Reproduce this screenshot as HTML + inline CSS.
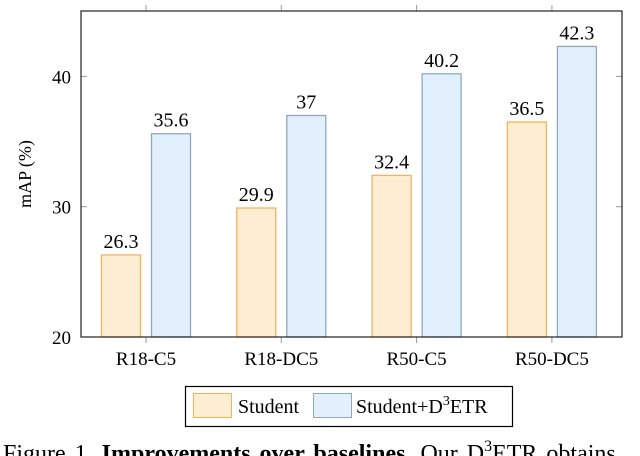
<!DOCTYPE html>
<html><head><meta charset="utf-8"><style>
body{margin:0;background:#fff;}
svg{display:block;font-family:"Liberation Serif",serif;}
</style></head><body>
<svg width="640" height="456" viewBox="0 0 640 456" xmlns="http://www.w3.org/2000/svg">
<g id="grid"></g>
<g id="bars"></g>
<g id="axes"></g>
<text x="31" y="174" font-size="18" text-anchor="middle" transform="rotate(-90 31 174)">mAP (%)</text>
<g>
<rect x="185.5" y="386.5" width="327" height="40" fill="#fff" stroke="#000" stroke-width="1.2"/>
<g>
<rect x="193.5" y="393.5" width="38" height="24" fill="#fdeed3" stroke="#f7b25a" stroke-width="1"/>
<text x="238" y="413" font-size="20">Student</text></g>
<g>
<rect x="313.5" y="393.5" width="38" height="24" fill="#e1f0fc" stroke="#8fa8c0" stroke-width="1"/>
<text x="356" y="413" font-size="20">Student+D<tspan font-size="14" dy="-8">3</tspan><tspan dy="8">ETR</tspan></text></g>
</g>
<text x="3" y="461" font-size="24" word-spacing="3">Figure 1.  <tspan font-weight="bold">Improvements over baselines.</tspan>  Our D<tspan font-size="16" dy="-10">3</tspan><tspan dy="10">ETR obtains</tspan></text>
</svg>
<script>
const categories=["R18-C5","R18-DC5","R50-C5","R50-DC5"];
const studentValues=[26.3,29.9,32.4,36.5];
const d3etrValues=[35.6,37,40.2,42.3];
const yTicks=[20,30,40];
const studentLabels=["26.3","29.9","32.4","36.5"];
const d3etrLabels=["35.6","37","40.2","42.3"];
const NS="http://www.w3.org/2000/svg";
const L=81,R=622,T=11,B=337;
const y=v=>B-(v-20)*13.03;
const x=i=>146+i*135.3;
function mk(tag,attrs,parent,txt){const e=document.createElementNS(NS,tag);for(const k in attrs)e.setAttribute(k,attrs[k]);if(txt!==undefined)e.textContent=txt;parent.appendChild(e);return e;}
const axes=document.getElementById('axes'),bars=document.getElementById('bars'),grid=document.getElementById('grid');
categories.forEach((c,i)=>{
  const cx=x(i);
  let t=mk('line',{x1:cx,x2:cx,y1:T-6,y2:T,stroke:'#999','stroke-width':1},grid);
  
  t=mk('line',{x1:cx,x2:cx,y1:B,y2:B+6,stroke:'#999','stroke-width':1},grid);
  
  let b=mk('rect',{x:cx-44.5,y:y(studentValues[i]),width:39,height:B-y(studentValues[i]),fill:'#fdeed3',stroke:'#f7b25a','stroke-width':1.3},bars);
  
  b=mk('rect',{x:cx+5.5,y:y(d3etrValues[i]),width:39,height:B-y(d3etrValues[i]),fill:'#e1f0fc',stroke:'#8fa8c0','stroke-width':1.3},bars);
  
  let l=mk('text',{x:cx-25,y:y(studentValues[i])-7,'font-size':20,'text-anchor':'middle'},bars,studentLabels[i]);
  
  l=mk('text',{x:cx+25,y:y(d3etrValues[i])-7,'font-size':20,'text-anchor':'middle'},bars,d3etrLabels[i]);
  
  l=mk('text',{x:cx,y:365,'font-size':19,'text-anchor':'middle'},axes,c);
  
});
yTicks.forEach(v=>{
  let t=mk('line',{x1:L,x2:L+6,y1:y(v),y2:y(v),stroke:'#999','stroke-width':1},grid);
  
  t=mk('line',{x1:R-6,x2:R,y1:y(v),y2:y(v),stroke:'#999','stroke-width':1},grid);
  
  const l=mk('text',{x:71,y:y(v)+7,'font-size':19,'text-anchor':'end'},axes,String(v));
  
});
const frame=mk('rect',{x:L,y:T,width:R-L,height:B-T,fill:'none',stroke:'#222','stroke-width':1.2},axes);


</script>
</body></html>
